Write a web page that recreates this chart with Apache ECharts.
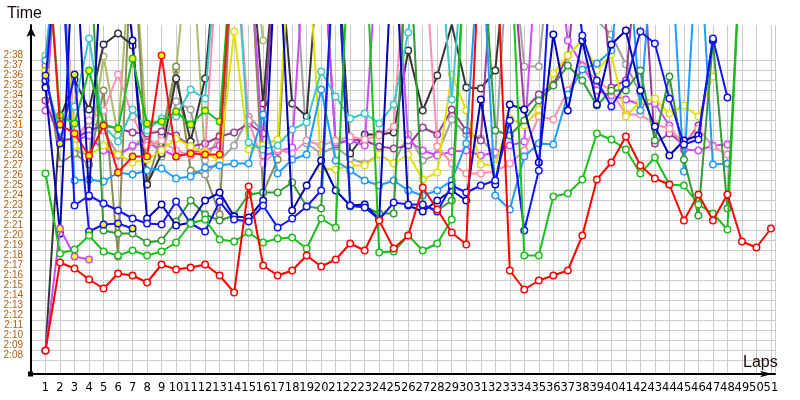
<!DOCTYPE html>
<html><head><meta charset="utf-8">
<script src="https://cdn.jsdelivr.net/npm/echarts@6/dist/echarts.min.js"></script>
<style>html,body{margin:0;padding:0;background:#fff}#c{width:800px;height:400px}</style>
</head><body><div id="c"></div>
<script>
// Lap numbers (x axis)
const laps = [1,2,3,4,5,6,7,8,9,10,11,12,13,14,15,16,17,18,19,20,21,22,23,24,25,26,27,28,29,30,31,32,33,34,35,36,37,38,39,40,41,42,43,44,45,46,47,48,49,50,51];
// Lap times in seconds (2:08 = 128). Values above ~2:41 are off the top of the chart (pit laps).
const red = [129.0,137.8,137.2,136.1,135.2,136.7,136.5,135.8,137.6,137.1,
  137.3,137.6,136.5,134.8,145.4,137.5,136.5,137.0,138.5,137.4,
  138.1,139.7,139.0,142.0,139.2,140.5,145.3,143.1,140.8,139.6,
  172,172,137.0,135.1,136.0,136.5,137.0,140.5,146.1,147.8,
  150.4,147.5,146.2,145.6,142.0,144.6,142.0,144.6,139.9,139.3,141.2];
const green = [146.7,138.7,139.1,140.5,138.9,138.5,139.0,138.5,138.9,139.8,
  141.7,142.1,140.1,139.9,140.8,139.8,140.2,140.3,139.2,142.2,
  141.3,172,172,138.8,138.9,140.5,139.0,139.7,142.1,172,
  172,172,172,138.5,138.5,144.4,144.7,146.1,150.7,150.1,
  149.1,146.7,148.3,145.6,145.5,143.6,142.7,141.1,172];
const darkGreen = [155.5,172,172,172,141.0,140.7,140.7,139.8,140.0,141.9,
  144.0,142.6,142.0,142.5,144.6,144.8,144.8,145.8,143.4,143.2,
  172,143.4,143.4,142.7,142.7,172,143.5,143.0,144.0,172,
  172,151.0,150.5,152.0,154.0,155.5,157.5,156.0,153.5,155.0,
  155.0,157.0,150.0,156.4,148.1,142.5,160.0,143.2,172];
const redB = [172,151.6,150.7,148.5,151.5,146.8,148.4,148.4,158.5,148.4,148.7,148.6,148.6,172];
const lime = [172,152.5,151.7,157.0,151.6,151.2,158.2,151.7,151.9,152.9,151.6,153.0,151.9,172];
const blueB = [156.5,149.7,156.6,140.9,141.6,141.7,141.2];
const violetB = [129.0,141.2,138.4,138.1];
const blue = [156.0,172,143.5,144.5,143.7,143.0,142.2,141.7,141.6,143.9,
  141.7,140.9,143.9,142.1,141.9,143.5,141.3,142.2,143.4,145.0,
  172,143.5,143.3,142.1,143.8,143.6,143.6,142.9,145.5,144.8,
  145.5,146.0,152.0,141.0,147.0,172,172,160.5,156.0,153.4,
  155.7,160.9,159.7,154.2,149.6,150.1,160.2,154.3];
const navy = [155.3,140.7,172,144.4,172,172,160.0,142.2,143.6,141.5,
  141.8,144.0,144.8,142.4,142.3,144.0,172,143.0,145.5,148.0,
  145.0,143.5,143.6,142.1,172,143.5,142.9,144.0,145.0,144.0,
  154.1,145.6,153.6,153.1,147.8,160.6,153.0,160.0,153.6,159.6,
  161.0,155.0,151.4,148.5,150.0,150.5,160.0];
const dodger = [158.0,172,146.0,146.1,145.9,146.8,146.6,147.0,147.2,146.2,
  146.4,147.3,147.5,147.7,147.7,152.6,146.7,148.1,148.6,155.1,
  148.0,147.0,146.0,145.5,146.0,145.0,144.5,145.0,146.0,149.7,
  172,144.5,143.1,148.4,149.7,149.6,154.6,157.1,157.7,159.0,
  172,153.0,172,172,146.9,172,147.6,147.7];
const cyan = [156.0,151.0,153.4,160.2,151.5,149.9,153.1,151.0,152.2,152.4,
  155.1,154.2,172,172,149.8,149.1,149.5,151.1,151.8,156.9,
  154.4,152.2,152.7,151.7,153.6,160.8,172,172,154.1,172];
const pink = [156.8,172,150.0,152.0,153.0,156.6,152.4,149.5,150.0,149.0,
  148.5,149.0,172,172,152.0,147.7,149.1,148.7,150.0,149.5,
  150.0,150.4,150.1,150.5,151.4,172,172,149.4,147.7,146.7,
  146.7,146.9,147.7,149.0,152.4,152.1,155.0,157.4,156.0,154.9,
  152.6,152.6,151.6,151.2,149.7,151.2,149.4,148.6];
const violet = [153.0,172,150.0,150.5,149.0,148.5,149.5,149.8,149.1,148.4,
  148.8,149.0,149.5,172,172,148.5,148.9,149.3,172,172,
  149.8,150.0,149.5,172,172,150.0,149.0,148.5,148.9,149.0,
  148.5,148.8,149.5,149.9,172,172,160.0,157.5,155.0,154.5,
  154.1,153.6,153.7,151.5,149.1,149.0,149.5,149.6];
const purple = [154.0,150.0,150.2,151.0,151.5,151.2,150.8,150.7,150.9,150.5,
  149.4,149.7,150.4,150.8,151.7,150.7,172,172,172,172,
  149.6,150.1,150.0,149.4,149.2,149.5,151.3,150.6,153.1,151.0,
  150.0,172,172,153.1,154.6,155.6,158.5,172,172,155.3,
  156.0,172,149.7,150.7,149.6,151.5];
const gray = [157.0,172,150.0,152.0,151.0,148.6,149.4,150.5,148.4,153.9,
  153.1,146.6,148.0,149.5,152.4,150.9,172,172,149.7,148.7,
  149.4,148.2,147.7,148.6,147.7,150.6,148.0,148.6,152.1,150.6,
  150.2,148.6,172,157.4,157.4,172,172,172,162.0,160.6,
  157.6,154.7];
const black = [129.0,152.2,156.1,153.1,159.6,160.7,159.5,145.6,148.7,156.2,
  149.9,156.2,172,172,172,153.7,172,153.7,152.4,172,
  172,148.7,150.6,150.6,150.8,159.0,153.0,156.5,161.6,155.3,
  155.2,157.0,172];
const olive = [157.5,147.7,148.7,147.6,155.0,138.4,172,145.7,150.5,157.4,
  147.0,146.6,142.6,172,172,144.8,148.1,172];
const yellow = [156.9,172,149.5,148.5,149.5,148.6,147.8,148.1,149.0,150.2,
  149.4,148.8,148.0,160.9,149.1,149.5,150.1,172,172,147.2,
  147.1,147.5,147.5,148.6,147.7,148.6,146.1,146.8,156.6,153.0,
  147.6,147.5,152.2,151.5,153.1,156.7,158.5,160.0,157.0,158.6,
  152.4,153.9,154.2,152.7,153.5,152.4,156.4];
const khaki = [158.5,172,149.0,148.5,158.4,150.5,172,150.0,149.5,157.0,
  172,148.0,150.5,172,172,160.0];

const lines = [
  {data: khaki, color: '#a8bd6c', fill: '#ffffff'},
  {data: olive, color: '#8c8a58', fill: '#ffffff'},
  {data: gray, color: '#a0a0a0', fill: '#ffffff'},
  {data: black, color: '#353535', fill: '#ffffff'},
  {data: purple, color: '#9a3c98', fill: '#ffffff'},
  {data: violet, color: '#cc4cf8', fill: '#ffffff'},
  {data: pink, color: '#ff8fae', fill: '#ffffff'},
  {data: yellow, color: '#e2e000', fill: '#ffffff'},
  {data: cyan, color: '#3ec8c8', fill: '#ffffff'},
  {data: dodger, color: '#1e9cff', fill: '#ffffff'},
  {data: darkGreen, color: '#349a34', fill: '#ffffff'},
  {data: navy, color: '#0000b4', fill: '#ffffff'},
  {data: blue, color: '#1414f5', fill: '#ffffff'},
  {data: lime, color: '#19c019', fill: '#ffff00'},
  {data: redB, color: '#ff1010', fill: '#ffff00'},
  {data: blueB, color: '#1414f5', fill: '#ffff00'},
  {data: violetB, color: '#cc4cf8', fill: '#ffff00'},
  {data: green, color: '#19c019', fill: '#ffffff'},
  {data: red, color: '#ff0000', fill: '#ffffff'}
];

function fmtTime(v) {
  const m = Math.floor(v / 60), s = Math.round(v - m * 60);
  return m + ':' + (s < 10 ? '0' + s : s);
}

const chart = echarts.init(document.getElementById('c'), null, {renderer: 'canvas'});
const grid = '#cccccc';
chart.setOption({
  animation: false,
  backgroundColor: '#ffffff',
  title: [
    {text: 'Time', left: 7, top: 6, padding: 0, textStyle: {fontFamily: 'Liberation Sans', fontSize: 16, fontWeight: 'normal', color: '#1a0606'}},
    {text: 'Laps', left: 743, top: 355, padding: 0, textStyle: {fontFamily: 'Liberation Sans', fontSize: 16, fontWeight: 'normal', color: '#1a0606'}}
  ],
  grid: [
    {left: 31, top: 25, width: 744, height: 349},
    {left: 31, top: 60.7, width: 744, height: 300}
  ],
  xAxis: [
    {gridIndex: 0, type: 'value', min: 0, max: 51.28, interval: 1,
     axisLine: {show: true, onZero: false, lineStyle: {color: '#000', width: 2}, symbol: ['none', 'arrow'], symbolSize: [5, 12], symbolOffset: [0, -3]},
     axisTick: {show: false},
     splitLine: {show: true, lineStyle: {color: grid, width: 1}},
     axisLabel: {margin: 8, color: '#000', fontFamily: 'DejaVu Sans', fontSize: 11.5,
       formatter: v => (Number.isInteger(v) && v >= 1 && v <= 51) ? String(v) : ''}},
    {gridIndex: 1, type: 'value', min: 0, max: 51.28, show: false}
  ],
  yAxis: [
    {gridIndex: 0, type: 'value', min: 126.65, max: 161.55,
     axisLine: {show: true, onZero: false, lineStyle: {color: '#000', width: 2}, symbol: ['none', 'arrow'], symbolSize: [7, 10], symbolOffset: [0, -2]},
     axisTick: {show: false}, axisLabel: {show: false}, splitLine: {show: false}},
    {gridIndex: 1, type: 'value', min: 128, max: 158, interval: 1,
     axisLine: {show: false}, axisTick: {show: false},
     splitLine: {show: true, lineStyle: {color: grid, width: 1}},
     axisLabel: {margin: 8, verticalAlign: 'bottom', color: '#b45c08', fontFamily: 'Liberation Sans', fontSize: 10, formatter: v => fmtTime(v)}}
  ],
  graphic: [{type: 'rect', shape: {x: 28, y: 371.5, width: 5, height: 5}, style: {fill: '#000'}, z: 100}],
  series: lines.map((l, k) => ({
    type: 'line', xAxisIndex: 0, yAxisIndex: 0,
    data: l.data.map((v, i) => [laps[i], v]),
    symbol: 'circle', symbolSize: 6.5, showSymbol: true, showAllSymbol: true,
    clip: true, silent: true, z: 2 + k * 0.01,
    lineStyle: {color: l.color, width: 2},
    itemStyle: {color: l.fill, borderColor: l.color, borderWidth: 1.5},
    emphasis: {disabled: true}
  }))
});
</script></body></html>
